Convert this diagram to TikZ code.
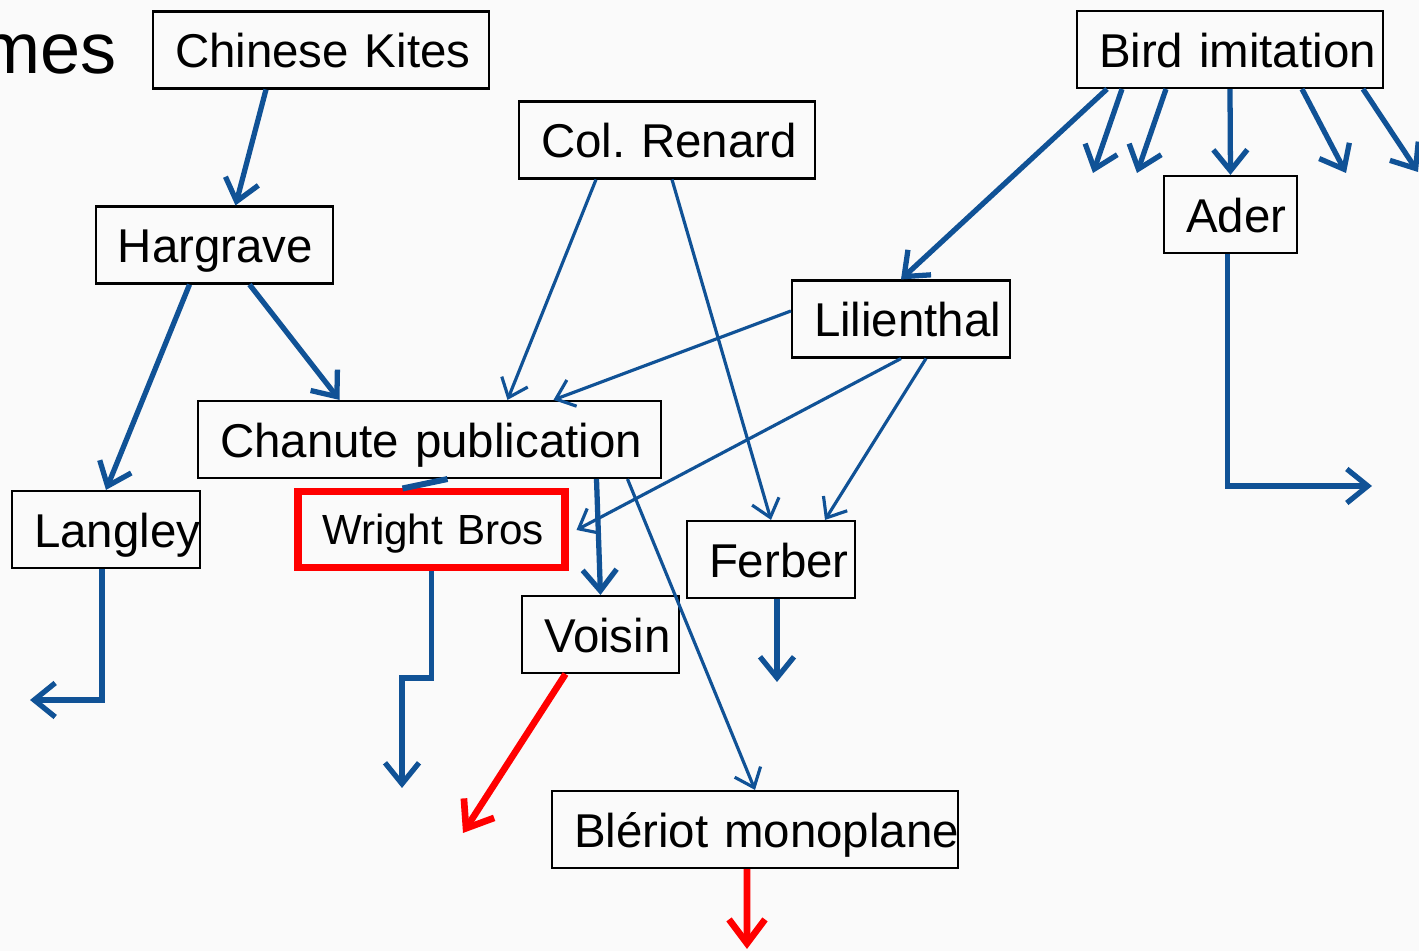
\documentclass[tikz,border=0pt]{standalone}
\usepackage{fontspec}
\setmainfont{Liberation Sans}
\usetikzlibrary{arrows.meta}

\definecolor{linkblue}{RGB}{16,82,150}
\definecolor{pagebg}{RGB}{250,250,250}
\newcommand{\boxfont}{\fontsize{13.5}{16}\selectfont}
\newcommand{\wbfont}{\fontsize{12}{14}\selectfont}

\tikzset{
  box/.style={draw, line width=0.6pt, font=\boxfont, text width=#1, align=left,
    inner xsep=0.22cm, inner ysep=0.1cm, minimum height=0.77cm,
    text height=0.42cm, text depth=0.06cm},
  redbox/.style={draw=red, line width=2pt, font=\wbfont, text width=#1, align=left,
    inner xsep=0.24cm, inner ysep=0.1cm, minimum height=0.76cm,
    text height=0.36cm, text depth=0.06cm},
  link/.style={linkblue, line width=0.9pt, -{Straight Barb[length=0.17cm, width=0.28cm]}},
  biglink/.style={linkblue, line width=1.5pt, -{Straight Barb[length=0.21cm, width=0.34cm]}},
  redlink/.style={red, line width=1.9pt, -{Straight Barb[length=0.24cm, width=0.36cm]}}
}

\begin{document}
\begin{tikzpicture}

% Hintergrund
\path[use as bounding box, fill=pagebg] (0,0) rectangle (14.19,-9.51);
\clip (0,0) rectangle (14.19,-9.51);

% Titelrest
\node[font=\fontsize{20.5}{24}\selectfont, anchor=base east, inner sep=0] (ti) at (1.17,-0.735) {mes};

% Kästen
\node[box=2.92cm] (ck) at (3.21,-0.50) {\mbox{Chinese Kites}};
\node[box=1.93cm] (hg) at (2.145,-2.45) {Hargrave};
\node[box=2.52cm] (cr) at (6.67,-1.40) {\mbox{Col.\ Renard}};
\node[box=2.62cm] (bi) at (12.30,-0.495) {\mbox{Bird imitation}};
\node[box=0.89cm] (ad) at (12.305,-2.145) {Ader};
\node[box=1.74cm] (li) at (9.01,-3.19) {Lilienthal};
\node[box=4.19cm] (cp) at (4.295,-4.395) {\mbox{Chanute publication}};
\node[box=1.44cm] (la) at (1.06,-5.295) {Langley};
\node[redbox=2.19cm] (wb) at (4.315,-5.30) {\mbox{Wright Bros}};
\node[box=1.24cm] (fe) at (7.71,-5.595) {Ferber};
\node[box=1.13cm] (vo) at (6.005,-6.345) {Voisin};
\node[box=3.62cm] (bm) at (7.55,-8.295) {\mbox{Blériot monoplane}};

% freie Pfeilenden
\coordinate (b1) at (10.93,-1.73);
\coordinate (b2) at (11.37,-1.73);
\coordinate (b3) at (13.46,-1.73);
\coordinate (b4) at (14.18,-1.72);
\coordinate (ae) at (13.72,-4.86);
\coordinate (le) at (0.30,-7.00);
\coordinate (wk) at (4.02,-6.78);
\coordinate (ws) at (4.02,-7.88);
\coordinate (vr) at (4.63,-8.33);
\coordinate (fd) at (7.77,-6.82);
\coordinate (bd) at (7.47,-9.49);

% Pfeile links
\draw[biglink] ([xshift=-0.55cm]ck.south) -- ([xshift=0.21cm]hg.north);
\draw[biglink] ([xshift=-0.25cm]hg.south) -- (la.north);
\draw[biglink] ([xshift=0.35cm]hg.south) -- ([xshift=-0.9cm]cp.north);
\draw[biglink] ([xshift=-0.04cm]la.south) |- (le);

% Pfeile Mitte
\draw[link] ([xshift=-0.71cm]cr.south) -- ([xshift=0.78cm]cp.north);
\draw[link] ([xshift=0.05cm]cr.south) -- (fe.north);
\draw[link] ([yshift=0.08cm]li.west) -- ([xshift=1.24cm]cp.north);
\draw[link] (li.south) -- ([xshift=0.08cm]wb.east);
\draw[link] ([xshift=0.25cm]li.south) -- ([xshift=0.54cm]fe.north);
\draw[linkblue, line width=1.7pt] ([xshift=0.18cm]cp.south) -- ([xshift=-0.29cm]wb.north);
\draw[biglink] ([xshift=1.67cm]cp.south) -- (vo.north);
\draw[link] ([xshift=1.98cm]cp.south) -- (bm.north);
\draw[biglink] (wb.south) |- (wk) -- (ws);
\draw[biglink] ([xshift=0.06cm]fe.south) -- (fd);
\draw[redlink] ([xshift=-0.35cm]vo.south) -- (vr);
\draw[redlink] ([xshift=-0.08cm]bm.south) -- (bd);

% Pfeile rechts
\draw[biglink] ([xshift=-1.23cm]bi.south) -- (li.north);
\foreach \dx/\tip in {-1.08/b1, -0.64/b2, 0.72/b3, 1.33/b4}
  \draw[biglink] ([xshift=\dx cm]bi.south) -- (\tip);
\draw[biglink] (bi.south) -- (ad.north);
\draw[biglink] ([xshift=-0.03cm]ad.south) |- (ae);

\end{tikzpicture}
\end{document}
